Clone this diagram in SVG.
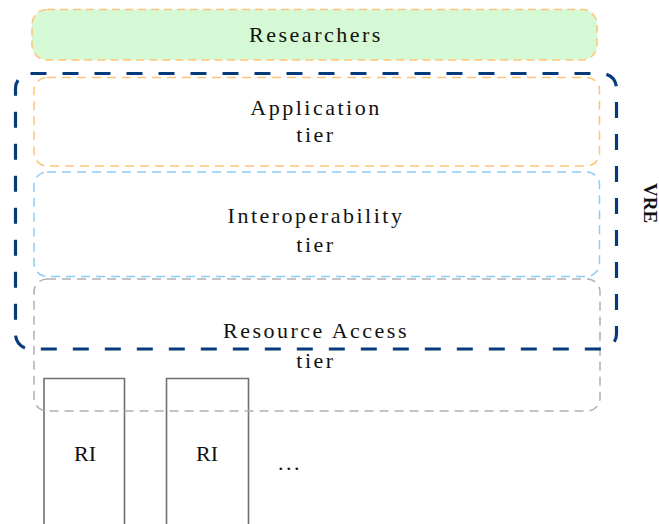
<svg xmlns="http://www.w3.org/2000/svg" width="659" height="524" viewBox="0 0 659 524">
  <style>
    text { font-family: 'Liberation Serif', serif; }
    .label { font-size: 22px; fill: #111; text-anchor: middle; letter-spacing: 2.5px; }
    .tight { letter-spacing: 0px; }
    .tier { fill: none; stroke-width: 1.5; stroke-dasharray: 9 6; }
    .ri { fill: none; stroke: #707070; stroke-width: 1.6; }
  </style>
  <rect width="659" height="524" fill="#ffffff"/>

  <!-- user layer -->
  <g id="researchers">
    <rect x="32" y="9.5" width="565" height="50.5" rx="15" fill="#d4f9d4" stroke="#ffc47a" stroke-width="1.5" stroke-dasharray="8 5"/>
    <text class="label" x="316" y="42" font-family="Liberation Serif, serif">Researchers</text>
  </g>

  <!-- resource infrastructures below the tiers -->
  <g id="ri-1">
    <polyline class="ri" points="44,526 44,378.5 124.5,378.5 124.5,526"/>
    <text class="label tight" x="85" y="461" font-family="Liberation Serif, serif">RI</text>
  </g>
  <g id="ri-2">
    <polyline class="ri" points="166.5,526 166.5,378.5 248.5,378.5 248.5,526"/>
    <text class="label tight" x="207" y="461" font-family="Liberation Serif, serif">RI</text>
  </g>
  <g id="ri-more">
    <text class="label" x="290" y="470" font-family="Liberation Serif, serif" letter-spacing="4">...</text>
  </g>

  <!-- service tiers -->
  <g id="application-tier" font-family="Liberation Serif, serif">
    <rect class="tier" x="34" y="77.5" width="565.5" height="88.5" rx="13" stroke="#ffc47a"/>
    <text class="label" x="316" y="115">Application</text>
    <text class="label" x="316" y="142">tier</text>
  </g>
  <g id="interoperability-tier" font-family="Liberation Serif, serif">
    <rect class="tier" x="34" y="172" width="565.5" height="104.5" rx="13" stroke="#8ccdf7"/>
    <text class="label" x="316" y="223">Interoperability</text>
    <text class="label" x="316" y="252">tier</text>
  </g>
  <g id="resource-access-tier" font-family="Liberation Serif, serif">
    <rect class="tier" x="34" y="279" width="566" height="132" rx="13" stroke="#b0b0b0"/>
    <text class="label" x="316" y="338">Resource Access</text>
    <text class="label" x="316" y="368">tier</text>
  </g>

  <!-- virtual research environment boundary -->
  <g id="vre">
    <rect x="15.5" y="73.5" width="601" height="275.5" rx="15" fill="none" stroke="#073a78" stroke-width="3.2" stroke-dasharray="16 16"/>
    <text x="650" y="203" transform="rotate(90 650 203)" font-size="19" font-weight="bold" fill="#111" text-anchor="middle" dominant-baseline="central">VRE</text>
  </g>

  <g id="connectors"/>
</svg>
